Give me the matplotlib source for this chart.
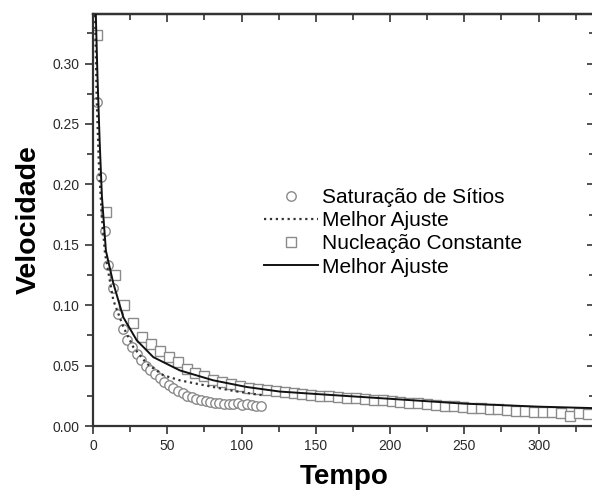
import matplotlib
matplotlib.use("Agg")
import matplotlib.pyplot as plt
from matplotlib.ticker import MultipleLocator

plt.rcParams['font.family'] = ['Liberation Sans', 'DejaVu Sans']

# Saturacao de Sitios (circles)
sat_t = [2.5, 5.4, 7.8, 10.3, 13.7, 17.0, 20.0, 23.1, 26.2, 29.3, 32.4, 35.5,
         38.6, 41.7, 44.8, 47.9, 51.0, 54.1, 57.2, 60.3, 63.4, 66.5, 69.6, 72.7,
         75.8, 78.9, 82.0, 85.1, 88.2, 91.3, 94.4, 97.5, 100.6, 103.7, 106.8,
         109.9, 113.0]
sat_v = [0.268, 0.206, 0.161, 0.133, 0.114, 0.093, 0.080, 0.0715, 0.0650,
         0.0595, 0.0545, 0.0500, 0.0465, 0.0430, 0.0395, 0.0365, 0.0338, 0.0312,
         0.0290, 0.0270, 0.0252, 0.0238, 0.0225, 0.0213, 0.0205, 0.0198, 0.0192,
         0.0188, 0.0185, 0.0183, 0.0180, 0.0192, 0.0175, 0.0185, 0.0170, 0.0165,
         0.0168]

# Nucleacao Constante (squares)
nuc_t = [3, 9, 15, 21, 27, 33, 39, 45, 51, 57, 63, 69, 75, 81, 87, 93, 99, 105,
         111, 117, 123, 129, 135, 141, 147, 153, 159, 165, 171, 177, 183, 189,
         195, 201, 207, 213, 219, 225, 231, 237, 243, 249, 255, 261, 267, 273,
         279, 285, 291, 297, 303, 309, 315, 321, 327, 333]
nuc_v = [0.324, 0.177, 0.125, 0.100, 0.085, 0.074, 0.0676, 0.0618, 0.0568,
         0.0527, 0.0475, 0.0442, 0.0411, 0.0384, 0.0365, 0.0349, 0.0332, 0.0318,
         0.0306, 0.0298, 0.0290, 0.0280, 0.0270, 0.0265, 0.0258, 0.0252, 0.0246,
         0.0240, 0.0235, 0.0229, 0.0223, 0.0218, 0.0213, 0.0206, 0.0200, 0.0194,
         0.0188, 0.0180, 0.0174, 0.0168, 0.0162, 0.0154, 0.0150, 0.0146, 0.0142,
         0.0137, 0.0132, 0.0128, 0.0124, 0.0120, 0.0116, 0.0112, 0.0109, 0.0085,
         0.0104, 0.0102]

# best fit curves
fit1_t = [1.3, 2.5, 4.0, 6.0, 8.1, 13.7, 20.4, 27.1, 36.1, 47.3, 58.5, 69.7,
          81.0, 92.0, 103.4, 114.5]
fit1_v = [0.345, 0.27, 0.215, 0.172, 0.1427, 0.104, 0.082, 0.0654, 0.0517,
          0.042, 0.0378, 0.035, 0.0323, 0.0296, 0.0274, 0.0254]

fit2_t = [1.8, 3.0, 4.5, 6.0, 8.7, 13.7, 20.4, 29.4, 40.6, 58.5, 81.0, 103.4,
          125.8, 150, 200, 250, 300, 340]
fit2_v = [0.345, 0.29, 0.235, 0.19, 0.145, 0.118, 0.090, 0.071, 0.057, 0.046,
          0.0378, 0.0323, 0.0285, 0.0265, 0.0225, 0.0185, 0.0160, 0.0147]

fig = plt.figure(figsize=(5.92, 4.97), dpi=100)
ax = fig.add_axes([93 / 592, 71 / 497, 502 / 592, 412 / 497])

gray = '#8a8a8a'
ax.plot(sat_t, sat_v, 'o', ms=6.8, mfc='white', mec=gray, mew=1.0,
        label='Saturação de Sítios', zorder=2)
ax.plot(fit1_t, fit1_v, ':', color='#333333', lw=1.6, label='Melhor Ajuste',
        zorder=3)
ax.plot(nuc_t, nuc_v, 's', ms=6.8, mfc='white', mec=gray, mew=1.0,
        label='Nucleação Constante', zorder=2)
ax.plot(fit2_t, fit2_v, '-', color='#111111', lw=1.4, label='Melhor Ajuste',
        zorder=3)

ax.set_xlim(0, 338)
ax.set_ylim(0, 0.341)
ax.xaxis.set_major_locator(MultipleLocator(50))
ax.xaxis.set_minor_locator(MultipleLocator(25))
ax.yaxis.set_major_locator(MultipleLocator(0.05))
ax.yaxis.set_minor_locator(MultipleLocator(0.025))
ax.yaxis.set_major_formatter(plt.FuncFormatter(lambda v, p: f'{v:.2f}'))

for s in ax.spines.values():
    s.set_linewidth(1.6)
    s.set_color('#333333')

ax.tick_params(which='both', direction='out', top=False, right=False,
               color='#333333', width=1.2, labelsize=10, labelcolor='#2a2a2a')
ax.tick_params(which='major', length=6)
ax.tick_params(which='minor', length=4)

# inward ticks on the top and right sides
sec_x = ax.secondary_xaxis('top')
sec_x.xaxis.set_major_locator(MultipleLocator(50))
sec_x.xaxis.set_minor_locator(MultipleLocator(25))
sec_x.tick_params(which='both', direction='in', labeltop=False,
                  color='#333333', width=1.2)
sec_x.tick_params(which='major', length=6)
sec_x.tick_params(which='minor', length=4)
sec_x.spines['top'].set_linewidth(1.6)
sec_y = ax.secondary_yaxis('right')
sec_y.yaxis.set_major_locator(MultipleLocator(0.05))
sec_y.yaxis.set_minor_locator(MultipleLocator(0.025))
sec_y.tick_params(which='both', direction='in', labelright=False,
                  color='#333333', width=1.2)
sec_y.tick_params(which='major', length=6)
sec_y.tick_params(which='minor', length=4)

ax.set_xlabel('Tempo', fontsize=20, fontweight='bold', labelpad=8)
ax.set_ylabel('Velocidade', fontsize=20.5, fontweight='bold', labelpad=8)

ax.legend(loc='center left', bbox_to_anchor=(0.32, 0.47), frameon=False,
          fontsize=15, handlelength=2.6, handletextpad=0.2,
          labelspacing=0.2, borderpad=0)

fig.savefig('out.png', dpi=100)
